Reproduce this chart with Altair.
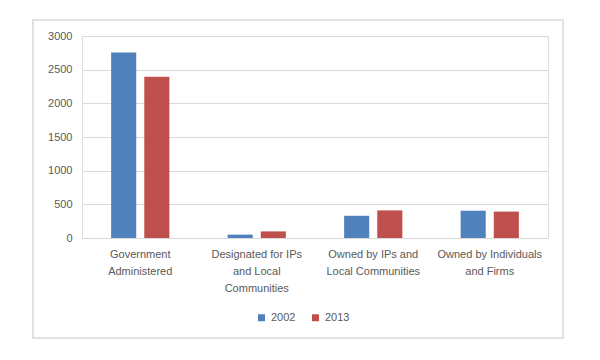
import altair as alt
import pandas as pd

categories = ["Government Administered", "Designated for IPs and Local Communities",
              "Owned by IPs and Local Communities", "Owned by Individuals and Firms"]
label_lines = [["Government", "Administered"],
               ["Designated for IPs", "and Local", "Communities"],
               ["Owned by IPs and", "Local Communities"],
               ["Owned by Individuals", "and Firms"]]
years = ["2002", "2013"]
values_2002 = [2755, 50, 330, 405]
values_2013 = [2395, 98, 410, 392]
colors = ["#4f81bd", "#c0504d"]

rows = []
for c, a, b in zip(categories, values_2002, values_2013):
    rows.append({"category": c, "year": years[0], "value": a})
    rows.append({"category": c, "year": years[1], "value": b})
df = pd.DataFrame(rows)

expr_parts = []
for c, lines in zip(categories, label_lines):
    arr = "[" + ",".join("'" + l + "'" for l in lines) + "]"
    expr_parts.append(f"datum.label == '{c}' ? {arr}")
label_expr = " : ".join(expr_parts) + " : datum.label"

FONT = "Liberation Sans"
GRAY = "#595959"

bars = alt.Chart(df).mark_bar().encode(
    x=alt.X("category:N", sort=categories, title=None,
            scale=alt.Scale(paddingInner=0.5, paddingOuter=0.25),
            axis=alt.Axis(labelAngle=0, labelExpr=label_expr, labelLineHeight=17,
                          labelPadding=10, domain=False, ticks=False,
                          labelColor=GRAY, labelFont=FONT, labelFontSize=11)),
    xOffset=alt.XOffset("year:N", scale=alt.Scale(paddingInner=0.2424, paddingOuter=0)),
    y=alt.Y("value:Q", title=None,
            scale=alt.Scale(domain=[0, 3000]),
            axis=alt.Axis(values=[0, 500, 1000, 1500, 2000, 2500, 3000], format="d",
                          domain=False, ticks=False, labelPadding=10,
                          gridColor="#d9d9d9", labelColor=GRAY,
                          labelFont=FONT, labelFontSize=11)),
    color=alt.Color("year:N", scale=alt.Scale(domain=years, range=colors),
                    legend=alt.Legend(title=None, orient="none", direction="horizontal",
                                      legendX=174, legendY=276, symbolType="square",
                                      symbolSize=49, symbolStrokeWidth=0,
                                      labelColor=GRAY, labelFont=FONT, labelFontSize=11,
                                      columnPadding=14, labelOffset=4)),
)

frame = alt.Chart(pd.DataFrame({"k": [0]})).mark_rect(
    fill=None, stroke="#d9d9d9", strokeWidth=1.5
).encode(
    x=alt.value(-49), x2=alt.value(481), y=alt.value(-16), y2=alt.value(302)
)

chart = alt.layer(frame, bars).properties(
    width=466, height=202,
    autosize=alt.AutoSizeParams(type="none"),
    padding={"left": 74, "top": 28, "right": 40, "bottom": 114},
).configure_view(stroke=None).configure(background="white")

chart.save("out.html", embed_options={"renderer": "svg", "actions": False})
